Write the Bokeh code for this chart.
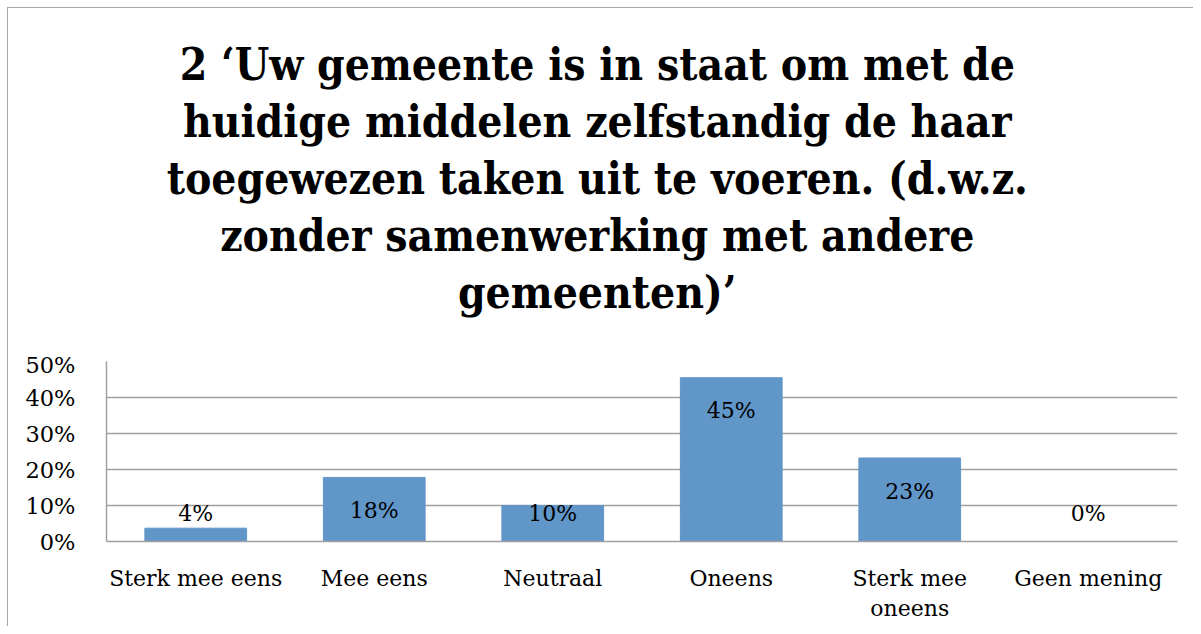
from bokeh.plotting import figure
from bokeh.layouts import column
from bokeh.models import FactorRange, Range1d, FixedTicker, ColumnDataSource
from bokeh.embed import file_html
from bokeh.resources import INLINE
from bokeh.core.properties import value

categories = ["Sterk mee eens", "Mee eens", "Neutraal", "Oneens", "Sterk mee\noneens", "Geen mening"]
values = [0.037, 0.178, 0.10, 0.455, 0.232, 0.0]
value_labels = ["4%", "18%", "10%", "45%", "23%", "0%"]
y_ticks = [0, 0.1, 0.2, 0.3, 0.4, 0.5]
y_tick_labels = ["0%", "10%", "20%", "30%", "40%", "50%"]
title_lines = [
    "2 \u2018Uw gemeente is in staat om met de",
    "huidige middelen zelfstandig de haar",
    "toegewezen taken uit te voeren. (d.w.z.",
    "zonder samenwerking met andere",
    "gemeenten)\u2019",
]

SERIF = "DejaVu Serif"
TITLE_FONT = "DejaVu Serif Condensed"
BAR = "#6096C8"
GRID = "#a0a0a0"
W = 1185
TITLE_H = 343

# ---- title panel (pixel-space figure) ----
TITLE_CX = 543          # horizontal centre of the title block
TITLE_TOP = 56          # centre of first line, px from top
TITLE_STEP = 57         # line spacing, px
tsrc = ColumnDataSource(dict(
    x=[TITLE_CX] * len(title_lines),
    y=[TITLE_H - (TITLE_TOP + i * TITLE_STEP) for i in range(len(title_lines))],
    t=title_lines,
))
tf = figure(width=W, height=TITLE_H, x_range=Range1d(0, W), y_range=Range1d(0, TITLE_H),
            output_backend="svg", toolbar_location=None, x_axis_type=None, y_axis_type=None,
            min_border=0)
tf.title.text = ""
tf.outline_line_color = None
tf.grid.visible = False
tf.text(x="x", y="y", text="t", source=tsrc, text_align="center", text_baseline="middle",
        text_font=value(TITLE_FONT), text_font_size="44px", text_font_style="bold", text_color="black")

# ---- bar chart ----
label_y = [max(v - 0.092, 0.078) for v in values]
src = ColumnDataSource(dict(cat=categories, val=values, lab=value_labels, ly=label_y))

p = figure(
    width=W, height=618 - TITLE_H,
    x_range=FactorRange(*categories, range_padding=0),
    y_range=Range1d(0, 0.5),
    output_backend="svg", toolbar_location=None,
    min_border_left=98, min_border_right=16, min_border_top=10, min_border_bottom=85,
)
p.title.text = ""

p.outline_line_color = None
p.xgrid.grid_line_color = None
p.ygrid.grid_line_color = GRID
p.ygrid.grid_line_width = 1.5
p.ygrid.ticker = FixedTicker(ticks=y_ticks)

p.vbar(x="cat", top="val", width=0.57, source=src, fill_color=BAR, line_color=BAR, line_width=1)
p.text(x="cat", y="ly", text="lab", source=src, text_align="center", text_baseline="middle",
       text_font=value(SERIF), text_font_size="22px", text_color="black")

p.yaxis.ticker = FixedTicker(ticks=y_ticks)
p.yaxis.major_label_overrides = {t: l for t, l in zip(y_ticks, y_tick_labels)}
p.yaxis.major_tick_line_color = None
p.yaxis.minor_tick_line_color = None
p.yaxis.axis_line_color = GRID
p.yaxis.axis_line_width = 1.5
p.yaxis.major_label_standoff = 25
p.yaxis.major_label_text_font = SERIF
p.yaxis.major_label_text_font_size = "22.5px"
p.yaxis.major_label_text_color = "black"

p.xaxis.major_tick_line_color = None
p.xaxis.axis_line_color = GRID
p.xaxis.axis_line_width = 1.5
p.xaxis.major_label_standoff = 18
p.xaxis.major_label_text_font = SERIF
p.xaxis.major_label_text_font_size = "22px"
p.xaxis.major_label_text_color = "black"

layout = column(tf, p, spacing=0,
                styles={"border-left": "1.5px solid #a8a8a8", "border-top": "1.5px solid #a8a8a8",
                        "margin-left": "7px", "margin-top": "7px"})

open("out.html", "w").write(file_html(layout, INLINE))
